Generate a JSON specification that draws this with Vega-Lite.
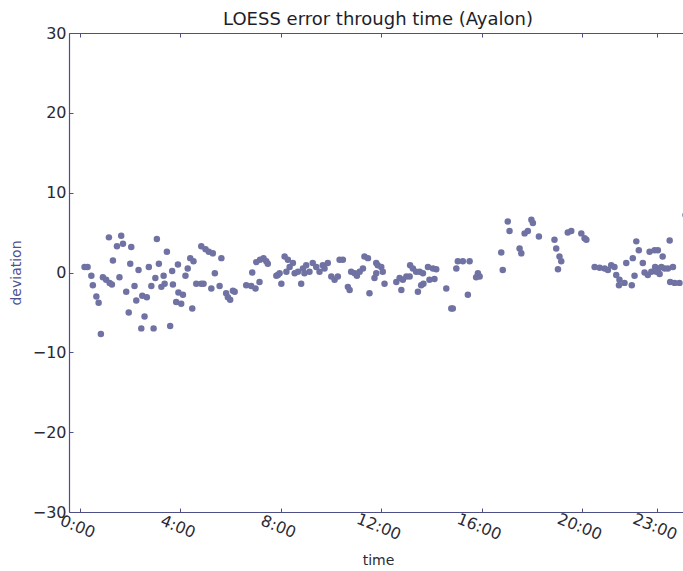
{
  "$schema": "https://vega.github.io/schema/vega-lite/v6.json",
  "autosize": "none",
  "padding": {"left": 69, "top": 33, "right": 0, "bottom": 59},
  "width": 618,
  "height": 479,
  "background": "white",
  "title": {
    "text": "LOESS error through time (Ayalon)",
    "font": "DejaVu Sans",
    "fontSize": 18,
    "fontWeight": "normal",
    "color": "#1e1e2a",
    "anchor": "middle",
    "offset": -4
  },
  "config": {
    "view": {"stroke": null},
    "axis": {
      "grid": false,
      "domainColor": "#4d5088",
      "domainWidth": 1.2,
      "tickColor": "#4d5088",
      "labelFont": "DejaVu Sans",
      "labelFontSize": 16,
      "labelColor": "#2a2a35",
      "titleFont": "DejaVu Sans",
      "titleFontSize": 14,
      "titleFontWeight": "normal"
    }
  },
  "data": {
    "values": [
      {"hour": 0.18, "deviation": 0.7}, {"hour": 0.30, "deviation": 0.7}, {"hour": 0.45, "deviation": -0.4},
      {"hour": 0.51, "deviation": -1.6}, {"hour": 0.65, "deviation": -3.0}, {"hour": 0.74, "deviation": -3.8},
      {"hour": 0.83, "deviation": -7.7}, {"hour": 1.15, "deviation": 4.4}, {"hour": 1.64, "deviation": 4.6},
      {"hour": 1.47, "deviation": 3.3}, {"hour": 1.71, "deviation": 3.6}, {"hour": 2.04, "deviation": 3.2},
      {"hour": 1.31, "deviation": 1.5}, {"hour": 0.91, "deviation": -0.6}, {"hour": 1.04, "deviation": -0.9},
      {"hour": 1.18, "deviation": -1.3}, {"hour": 1.27, "deviation": -1.5}, {"hour": 1.57, "deviation": -0.6},
      {"hour": 2.00, "deviation": 1.1}, {"hour": 1.84, "deviation": -2.4}, {"hour": 1.94, "deviation": -5.0},
      {"hour": 2.17, "deviation": -1.7}, {"hour": 2.33, "deviation": 0.3}, {"hour": 2.24, "deviation": -3.5},
      {"hour": 2.48, "deviation": -2.9}, {"hour": 2.66, "deviation": -3.1}, {"hour": 2.57, "deviation": -5.5},
      {"hour": 2.44, "deviation": -7.0}, {"hour": 2.93, "deviation": -7.0}, {"hour": 3.06, "deviation": 4.2},
      {"hour": 2.74, "deviation": 0.7}, {"hour": 3.00, "deviation": -0.7}, {"hour": 3.14, "deviation": 1.1},
      {"hour": 2.84, "deviation": -1.7}, {"hour": 3.24, "deviation": -1.8}, {"hour": 3.37, "deviation": -1.4},
      {"hour": 3.33, "deviation": -0.4}, {"hour": 3.46, "deviation": 2.6}, {"hour": 3.59, "deviation": -6.7},
      {"hour": 3.70, "deviation": -1.5}, {"hour": 3.67, "deviation": 0.2}, {"hour": 3.90, "deviation": 1.0},
      {"hour": 3.92, "deviation": -2.5}, {"hour": 4.10, "deviation": -2.8}, {"hour": 3.83, "deviation": -3.7},
      {"hour": 4.03, "deviation": -3.9}, {"hour": 4.20, "deviation": -0.4}, {"hour": 4.29, "deviation": 0.5},
      {"hour": 4.39, "deviation": 1.8}, {"hour": 4.52, "deviation": 1.4}, {"hour": 4.47, "deviation": -4.5},
      {"hour": 4.63, "deviation": -1.4}, {"hour": 4.83, "deviation": -1.4}, {"hour": 4.92, "deviation": -1.4},
      {"hour": 4.83, "deviation": 3.3}, {"hour": 5.00, "deviation": 2.9}, {"hour": 5.13, "deviation": 2.6},
      {"hour": 5.29, "deviation": 2.4}, {"hour": 5.23, "deviation": -2.0}, {"hour": 5.37, "deviation": -0.1},
      {"hour": 5.56, "deviation": -1.7}, {"hour": 5.63, "deviation": 1.8}, {"hour": 5.82, "deviation": -2.6},
      {"hour": 5.89, "deviation": -3.1}, {"hour": 5.98, "deviation": -3.4}, {"hour": 6.09, "deviation": -2.3},
      {"hour": 6.16, "deviation": -2.4}, {"hour": 6.62, "deviation": -1.6}, {"hour": 6.82, "deviation": -1.7},
      {"hour": 6.99, "deviation": -2.0}, {"hour": 7.15, "deviation": -1.2}, {"hour": 6.86, "deviation": 0.0},
      {"hour": 7.02, "deviation": 1.3}, {"hour": 7.17, "deviation": 1.6}, {"hour": 7.31, "deviation": 1.8},
      {"hour": 7.42, "deviation": 1.4}, {"hour": 7.48, "deviation": 1.1}, {"hour": 7.88, "deviation": -0.3},
      {"hour": 8.15, "deviation": 2.0}, {"hour": 8.28, "deviation": 1.6}, {"hour": 8.48, "deviation": 1.2},
      {"hour": 8.35, "deviation": 0.7}, {"hour": 8.22, "deviation": 0.1}, {"hour": 7.95, "deviation": -0.1},
      {"hour": 7.82, "deviation": -0.4}, {"hour": 8.02, "deviation": -1.4}, {"hour": 8.55, "deviation": -0.1},
      {"hour": 8.68, "deviation": 0.1}, {"hour": 8.81, "deviation": -1.4}, {"hour": 8.88, "deviation": 0.5},
      {"hour": 9.01, "deviation": 0.9}, {"hour": 8.94, "deviation": -0.1}, {"hour": 9.14, "deviation": 0.1},
      {"hour": 9.27, "deviation": 1.2}, {"hour": 9.41, "deviation": 0.7}, {"hour": 9.54, "deviation": 0.1},
      {"hour": 9.67, "deviation": 0.9}, {"hour": 9.74, "deviation": 0.5}, {"hour": 9.87, "deviation": 1.2},
      {"hour": 10.01, "deviation": -0.5}, {"hour": 10.14, "deviation": -0.9}, {"hour": 10.27, "deviation": -0.5},
      {"hour": 10.34, "deviation": 1.6}, {"hour": 10.47, "deviation": 1.6}, {"hour": 10.67, "deviation": -1.8},
      {"hour": 10.74, "deviation": -2.2}, {"hour": 10.80, "deviation": 0.1}, {"hour": 10.94, "deviation": -0.1},
      {"hour": 11.03, "deviation": -0.4}, {"hour": 11.14, "deviation": 0.1}, {"hour": 11.27, "deviation": 0.5},
      {"hour": 11.33, "deviation": 2.0}, {"hour": 11.47, "deviation": 1.8}, {"hour": 11.53, "deviation": -2.6},
      {"hour": 11.80, "deviation": 1.2}, {"hour": 11.86, "deviation": 0.9}, {"hour": 12.00, "deviation": 0.7},
      {"hour": 11.80, "deviation": -0.1}, {"hour": 12.06, "deviation": 0.1}, {"hour": 11.73, "deviation": -0.7},
      {"hour": 12.13, "deviation": -1.4}, {"hour": 12.60, "deviation": -1.2}, {"hour": 12.73, "deviation": -0.7},
      {"hour": 12.86, "deviation": -0.9}, {"hour": 13.00, "deviation": -0.5}, {"hour": 13.13, "deviation": -0.5},
      {"hour": 12.80, "deviation": -2.2}, {"hour": 13.15, "deviation": 0.9}, {"hour": 13.26, "deviation": 0.5},
      {"hour": 13.39, "deviation": 0.1}, {"hour": 13.53, "deviation": 0.1}, {"hour": 13.66, "deviation": -0.1},
      {"hour": 13.86, "deviation": 0.7}, {"hour": 14.06, "deviation": 0.5}, {"hour": 14.19, "deviation": 0.4},
      {"hour": 13.46, "deviation": -2.4}, {"hour": 13.59, "deviation": -1.6}, {"hour": 13.68, "deviation": -1.4},
      {"hour": 13.92, "deviation": -0.9}, {"hour": 14.12, "deviation": -0.8}, {"hour": 14.59, "deviation": -2.0},
      {"hour": 14.79, "deviation": -4.5}, {"hour": 14.85, "deviation": -4.5}, {"hour": 15.05, "deviation": 1.4},
      {"hour": 15.25, "deviation": 1.4}, {"hour": 15.52, "deviation": 1.4}, {"hour": 14.99, "deviation": 0.5},
      {"hour": 15.45, "deviation": -2.8}, {"hour": 15.85, "deviation": -0.1}, {"hour": 15.92, "deviation": -0.5},
      {"hour": 15.78, "deviation": -0.6}, {"hour": 17.04, "deviation": 6.4}, {"hour": 17.11, "deviation": 5.2},
      {"hour": 16.78, "deviation": 2.5}, {"hour": 16.84, "deviation": 0.3}, {"hour": 17.51, "deviation": 3.0},
      {"hour": 17.58, "deviation": 2.4}, {"hour": 17.71, "deviation": 4.9}, {"hour": 17.84, "deviation": 5.2},
      {"hour": 17.98, "deviation": 6.6}, {"hour": 18.04, "deviation": 6.2}, {"hour": 18.28, "deviation": 4.5},
      {"hour": 18.90, "deviation": 4.1}, {"hour": 18.97, "deviation": 3.0}, {"hour": 19.10, "deviation": 2.0},
      {"hour": 19.17, "deviation": 1.4}, {"hour": 19.04, "deviation": 0.4}, {"hour": 19.43, "deviation": 5.0},
      {"hour": 19.57, "deviation": 5.2}, {"hour": 19.97, "deviation": 4.9}, {"hour": 20.10, "deviation": 4.3},
      {"hour": 20.17, "deviation": 4.1}, {"hour": 20.50, "deviation": 0.7}, {"hour": 20.70, "deviation": 0.6},
      {"hour": 20.90, "deviation": 0.5}, {"hour": 21.03, "deviation": 0.3}, {"hour": 21.16, "deviation": 0.9},
      {"hour": 21.29, "deviation": 0.7}, {"hour": 21.36, "deviation": -0.3}, {"hour": 21.49, "deviation": -0.9},
      {"hour": 21.69, "deviation": -1.3}, {"hour": 21.47, "deviation": -1.6}, {"hour": 21.76, "deviation": 1.2},
      {"hour": 22.02, "deviation": 1.8}, {"hour": 22.09, "deviation": -0.4}, {"hour": 21.98, "deviation": -1.6},
      {"hour": 22.16, "deviation": 3.9}, {"hour": 22.26, "deviation": 2.8}, {"hour": 22.42, "deviation": 1.2},
      {"hour": 22.49, "deviation": 0.0}, {"hour": 22.62, "deviation": -0.3}, {"hour": 22.76, "deviation": 0.1},
      {"hour": 22.69, "deviation": 2.6}, {"hour": 22.89, "deviation": 2.8}, {"hour": 23.02, "deviation": 2.8},
      {"hour": 22.91, "deviation": 0.7}, {"hour": 23.04, "deviation": 0.5}, {"hour": 23.16, "deviation": 0.7},
      {"hour": 23.29, "deviation": 0.5}, {"hour": 23.42, "deviation": 0.5}, {"hour": 23.21, "deviation": 2.0},
      {"hour": 23.49, "deviation": 4.0}, {"hour": 23.62, "deviation": 0.7}, {"hour": 23.51, "deviation": -1.2},
      {"hour": 23.69, "deviation": -1.3}, {"hour": 23.88, "deviation": -1.3}, {"hour": 23.09, "deviation": -0.2},
      {"hour": 22.96, "deviation": 0.1}, {"hour": 24.12, "deviation": 7.2}
    ]
  },
  "layer": [
    {
      "mark": {"type": "point", "filled": true, "shape": "circle", "size": 42, "color": "#6f72a2", "opacity": 1, "clip": true},
      "encoding": {
        "x": {
          "field": "hour",
          "type": "quantitative",
          "scale": {"domain": [-0.44, 24.18], "nice": false, "zero": false},
          "axis": {
            "orient": "bottom",
            "title": "time",
            "titleColor": "#2a2a35",
            "titlePadding": 11,
            "values": [0, 4, 8, 12, 16, 20, 23],
            "labelExpr": "datum.value + ':00'",
            "labelAngle": 22,
            "labelAlign": "center",
            "labelBaseline": "top",
            "labelPadding": 11,
            "tickSize": -4,
            "labelFlush": false,
            "labelOverlap": false
          }
        },
        "y": {
          "field": "deviation",
          "type": "quantitative",
          "scale": {"domain": [-30, 30], "nice": false, "zero": false},
          "axis": {
            "orient": "left",
            "title": "deviation",
            "titleColor": "#4d5290",
            "titlePadding": 9,
            "values": [-30, -20, -10, 0, 10, 20, 30],
            "labelExpr": "datum.value < 0 ? '\u2212' + abs(datum.value) : '' + datum.value",
            "labelPadding": 7,
            "tickSize": -4,
            "labelFlush": false,
            "labelOverlap": false
          }
        }
      }
    },
    {
      "mark": {"type": "rule", "opacity": 0},
      "encoding": {
        "x": {
          "field": "hour",
          "type": "quantitative",
          "axis": {
            "orient": "top",
            "title": null,
            "labels": false,
            "values": [0, 4, 8, 12, 16, 20, 23],
            "tickSize": -4
          }
        }
      }
    }
  ]
}
